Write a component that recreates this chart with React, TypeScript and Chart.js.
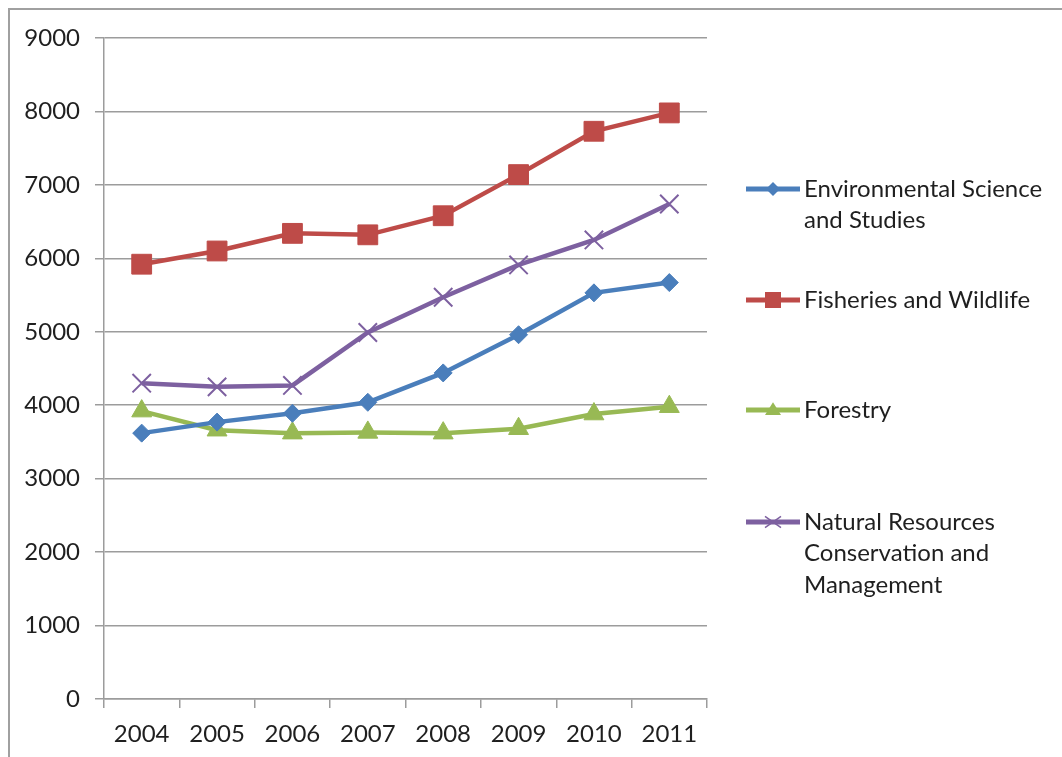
import React, { useEffect, useRef } from 'react';
import { Chart, registerables } from 'chart.js';
Chart.register(...registerables);

const years = ['2004', '2005', '2006', '2007', '2008', '2009', '2010', '2011'];
const envScience = [3620, 3770, 3890, 4040, 4440, 4960, 5530, 5670];
const fisheries = [5920, 6100, 6340, 6320, 6580, 7140, 7730, 7980];
const forestry = [3920, 3660, 3620, 3630, 3620, 3680, 3880, 3980];
const naturalRes = [4300, 4250, 4270, 4990, 5470, 5910, 6250, 6740];
const seriesLabels = [
  ['Environmental Science', 'and Studies'],
  ['Fisheries and Wildlife'],
  ['Forestry'],
  ['Natural Resources', 'Conservation and', 'Management'],
];
const yTicks = [0, 1000, 2000, 3000, 4000, 5000, 6000, 7000, 8000, 9000];

const COLORS = ['#4A7EBB', '#BE4B48', '#98B954', '#7D60A0'];
const STYLES = ['rectRot', 'rect', 'triangle', 'crossRot'];
const FONT = { family: 'Lato, "Open Sans", sans-serif', size: 24 };
const TEXT = '#1f1f1f';
const GRID = '#9c9c9c';

function drawMarker(ctx: CanvasRenderingContext2D, style: string, x: number, y: number, r: number, color: string) {
  ctx.save();
  ctx.fillStyle = color;
  ctx.strokeStyle = color;
  ctx.beginPath();
  if (style === 'rectRot') {
    ctx.moveTo(x, y - r);
    ctx.lineTo(x + r, y);
    ctx.lineTo(x, y + r);
    ctx.lineTo(x - r, y);
    ctx.closePath();
    ctx.fill();
  } else if (style === 'rect') {
    ctx.rect(x - r, y - r, 2 * r, 2 * r);
    ctx.fill();
  } else if (style === 'triangle') {
    const h = r * 1.6;
    ctx.moveTo(x, y - h * 0.6);
    ctx.lineTo(x + r, y + h * 0.4);
    ctx.lineTo(x - r, y + h * 0.4);
    ctx.closePath();
    ctx.fill();
  } else {
    ctx.lineWidth = 1.5;
    ctx.moveTo(x - r, y - r * 0.7);
    ctx.lineTo(x + r, y + r * 0.7);
    ctx.moveTo(x - r, y + r * 0.7);
    ctx.lineTo(x + r, y - r * 0.7);
    ctx.stroke();
  }
  ctx.restore();
}

export default function App() {
  const ref = useRef<HTMLCanvasElement>(null);
  useEffect(() => {
    if (!ref.current) return;
    const legendYs = [189, 300, 410, 522];
    const legendPlugin = {
      id: 'customLegend',
      afterDraw(chart: any) {
        const ctx: CanvasRenderingContext2D = chart.ctx;
        ctx.save();
        seriesLabels.forEach((lines, i) => {
          const y0 = legendYs[i];
          ctx.strokeStyle = COLORS[i];
          ctx.lineWidth = 5;
          ctx.beginPath();
          ctx.moveTo(746, y0);
          ctx.lineTo(800, y0);
          ctx.stroke();
          const sizes = [7, 8, 8, 8];
          drawMarker(ctx, STYLES[i], 773, y0, sizes[i], COLORS[i]);
          ctx.fillStyle = TEXT;
          ctx.font = `${FONT.size}px ${FONT.family}`;
          ctx.textBaseline = 'middle';
          ctx.textAlign = 'left';
          lines.forEach((t, j) => ctx.fillText(t, 804, y0 + j * 31.5));
        });
        ctx.restore();
      },
    };
    const allSeries = [envScience, fisheries, forestry, naturalRes];
    const radii = [9, 14, 11.5, 13];
    const chart = new Chart(ref.current, {
      type: 'line',
      data: {
        labels: years,
        datasets: allSeries.map((d, i) => ({
          label: seriesLabels[i].join(' '),
          data: d,
          borderColor: COLORS[i],
          backgroundColor: COLORS[i],
          borderWidth: 4.5,
          pointStyle: STYLES[i] as any,
          pointRadius: radii[i],
          pointBackgroundColor: COLORS[i],
          pointBorderColor: COLORS[i],
          pointBorderWidth: i === 3 ? 2 : 1,
          tension: 0,
          fill: false,
        })),
      },
      options: {
        responsive: false,
        animation: false,
        layout: { padding: { top: 38, right: 355, left: 0, bottom: 0 } },
        plugins: { legend: { display: false }, tooltip: { enabled: false } },
        scales: {
          x: {
            offset: true,
            grid: { offset: true, drawOnChartArea: false, drawTicks: true, tickLength: 9, color: GRID, lineWidth: 1.5 },
            border: { color: GRID, width: 1.5 },
            ticks: { font: FONT, color: TEXT, padding: 12, maxRotation: 0 },
            afterFit: (s: any) => { s.height = 58; },
          },
          y: {
            min: 0,
            max: 9000,
            afterBuildTicks: (s: any) => { s.ticks = yTicks.map((v) => ({ value: v })); },
            ticks: { font: FONT, color: TEXT, padding: 15, callback: (v: any) => String(v) },
            grid: { color: GRID, lineWidth: 1.5, tickLength: 9 },
            border: { color: GRID, width: 1.5 },
            afterFit: (s: any) => { s.width = 104; },
          },
        },
      },
      plugins: [legendPlugin],
    });
    return () => chart.destroy();
  }, []);
  return (
    <div style={{ position: 'fixed', left: 0, top: 0, width: 1062, height: 757, background: '#fff' }}>
      <div style={{ position: 'absolute', left: 8, top: 8, right: 0, bottom: 0, borderLeft: '2px solid #a0a0a0', borderTop: '2px solid #a0a0a0' }} />
      <canvas ref={ref} width={1062} height={757} style={{ position: 'absolute', left: 0, top: 0 }} />
    </div>
  );
}
